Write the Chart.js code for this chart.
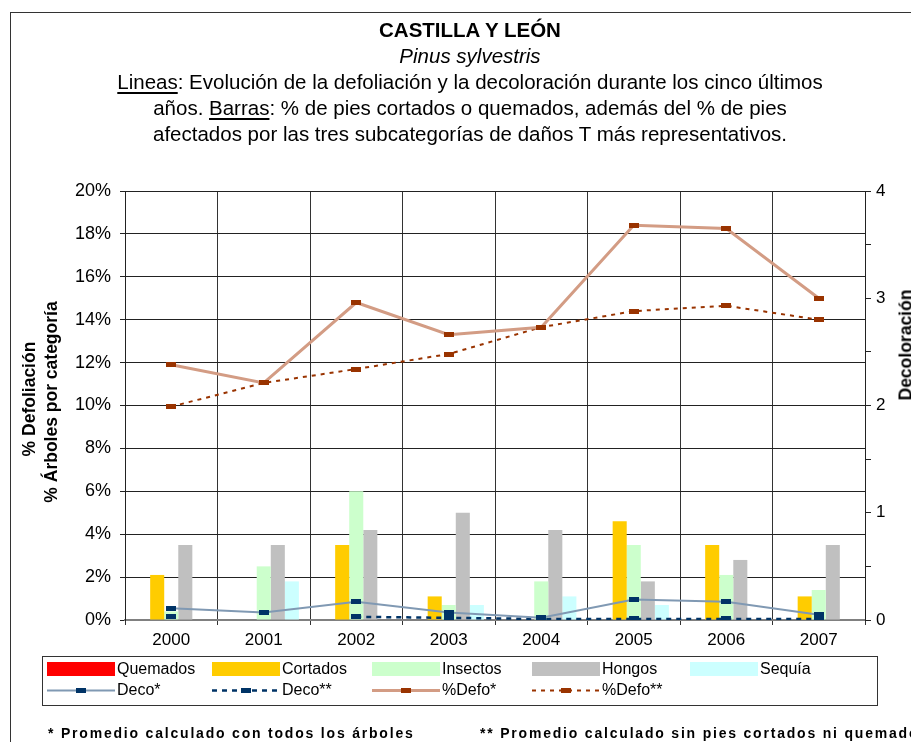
<!DOCTYPE html>
<html>
<head>
<meta charset="utf-8">
<script src="https://cdn.jsdelivr.net/npm/chart.js@4/dist/chart.umd.min.js"></script>
<style>
  html, body { margin: 0; padding: 0; background: #fff; overflow: hidden; }
  body { width: 911px; height: 742px; position: relative; font-family: "Liberation Sans", Arial, sans-serif; color: #000; }
  #frame { position: absolute; left: 10px; top: 12px; width: 1000px; height: 900px; border-left: 1.5px solid #333; border-top: 1.5px solid #333; }
  #wrap { position: absolute; left: 0; top: 0; width: 911px; height: 742px; }
  #head { position: absolute; left: 60px; top: 17px; width: 820px; text-align: center; font-size: 20.5px; line-height: 26px; }
  #head u { text-decoration-thickness: 2px; text-underline-offset: 3px; }
  .ytitle { position: absolute; font-weight: bold; font-size: 17.5px; white-space: nowrap; transform: translate(-50%, -50%) rotate(-90deg); }
  #legend { position: absolute; left: 42px; top: 656px; width: 836px; height: 50px; border: 1.5px solid #333; box-sizing: border-box; }
  .li { position: absolute; display: flex; align-items: center; font-size: 16px; white-space: nowrap; }
  .li canvas { margin-right: 2px; }
  .foot { position: absolute; top: 725px; font-size: 14px; font-weight: bold; letter-spacing: 1.8px; white-space: nowrap; }
</style>
</head>
<body>
<div id="frame"></div>
<div id="wrap"><canvas id="chart"></canvas></div>
<div id="head">
  <b>CASTILLA Y LEÓN</b><br>
  <i>Pinus sylvestris</i><br>
  <u>Lineas</u>: Evolución de la defoliación y la decoloración durante los cinco últimos<br>
  años. <u>Barras</u>: % de pies cortados o quemados, además del % de pies<br>
  afectados por las tres subcategorías de daños T más representativos.
</div>
<div class="ytitle" style="left:29px; top:399px;">% Defoliación</div>
<div class="ytitle" style="left:51px; top:402px;">% Árboles por categoría</div>
<div class="ytitle" style="left:906px; top:345px;">Decoloración</div>
<div id="legend"></div>
<div class="foot" style="left:48px;">* Promedio calculado con todos los árboles</div>
<div class="foot" style="left:480px;">** Promedio calculado sin pies cortados ni quemados</div>

<script>
const years = ["2000", "2001", "2002", "2003", "2004", "2005", "2006", "2007"];

// bars, % of trees (left axis)
const quemados = [0, 0, 0, 0, 0, 0, 0, 0];
const cortados = [2.1, 0, 3.5, 1.1, 0, 4.6, 3.5, 1.1];
const insectos = [0.4, 2.5, 6.0, 0.7, 1.8, 3.5, 2.1, 1.4];
const hongos   = [3.5, 3.5, 4.2, 5.0, 4.2, 1.8, 2.8, 3.5];
const sequia   = [0, 1.8, 0, 0.7, 1.1, 0.7, 0, 0];

// lines
const decoAll  = [0.11, 0.07, 0.17, 0.07, 0.02, 0.19, 0.17, 0.05];   // right axis
const decoSin  = [0.03, null, 0.03, 0.02, 0.01, 0.01, 0.01, 0.01];
const defoAll  = [11.9, 11.05, 14.8, 13.3, 13.65, 18.4, 18.25, 15.0]; // left axis
const defoSin  = [9.95, 11.05, 11.7, 12.4, 13.65, 14.4, 14.65, 14.0];

function marker(color) {
  const c = document.createElement("canvas");
  c.width = 10; c.height = 5;
  const g = c.getContext("2d");
  g.fillStyle = color;
  g.fillRect(0, 0, 10, 5);
  return c;
}
const navyMark = marker("#003366");
const brownMark = marker("#993300");

function bar(label, data, color) {
  return { type: "bar", label, data, backgroundColor: color, borderWidth: 0, yAxisID: "y", order: 2,
           categoryPercentage: 0.76, barPercentage: 1 };
}
function line(label, data, color, width, dash, mark, axis) {
  return { type: "line", label, data, borderColor: color, borderWidth: width, borderDash: dash,
           pointStyle: mark, pointRadius: 5, pointHoverRadius: 5, yAxisID: axis, order: 1,
           tension: 0, spanGaps: false, fill: false };
}

const datasets = [
  bar("Quemados", quemados, "#ff0000"),
  bar("Cortados", cortados, "#ffcc00"),
  bar("Insectos", insectos, "#ccffcc"),
  bar("Hongos", hongos, "#c0c0c0"),
  bar("Sequía", sequia, "#ccffff"),
  line("Deco*", decoAll, "#8099b3", 2, [], navyMark, "y1"),
  line("Deco**", decoSin, "#003366", 2.5, [5, 5], navyMark, "y1"),
  line("%Defo*", defoAll, "#d39c84", 3, [], brownMark, "y"),
  line("%Defo**", defoSin, "#993300", 2, [4, 5], brownMark, "y"),
];

const tickFont = { family: "Liberation Sans, Arial, sans-serif", size: 18 };

const chart = new Chart(document.getElementById("chart"), {
  data: { labels: years, datasets },
  options: {
    responsive: true, maintainAspectRatio: false, animation: false,
    layout: { padding: { top: 191, bottom: 82, left: 0, right: 0 } },
    plugins: { legend: { display: false }, title: { display: false }, tooltip: { enabled: false } },
    scales: {
      x: {
        offset: true,
        grid: { offset: true, color: "#333", lineWidth: 1, tickLength: 5 },
        border: { color: "#808080", width: 2 },
        ticks: { color: "#000", font: { ...tickFont, size: 17 }, padding: 5, maxRotation: 0 },
        afterFit: (s) => { s.height = 40; },
      },
      y: {
        position: "left", min: 0, max: 20,
        grid: { color: "#222", lineWidth: 1, tickLength: 5 },
        border: { color: "#222", width: 1 },
        ticks: { stepSize: 2, color: "#000", font: tickFont, padding: 9, callback: (v) => v + "%" },
        afterFit: (s) => { s.width = 125; },
      },
      y1: {
        position: "right", min: 0, max: 4,
        grid: { drawOnChartArea: false, color: "#222", tickLength: 6 },
        border: { color: "#222", width: 1 },
        ticks: { stepSize: 0.5, color: "#000", font: { ...tickFont, size: 17 }, padding: 5,
                 callback: (v) => Number.isInteger(v) ? v : "" },
        afterFit: (s) => { s.width = 46; },
      },
    },
  },
});

// legend drawn from the chart's datasets
function buildLegend() {
  const box = document.getElementById("legend");
  const cols = [4, 169, 329, 489, 647];
  chart.data.datasets.forEach((ds, i) => {
    const row = i < 5 ? 0 : 1;
    const col = i < 5 ? i : i - 5;
    const item = document.createElement("div");
    item.className = "li";
    item.style.left = cols[col] + "px";
    item.style.top = (row === 0 ? 3 : 24) + "px";
    const c = document.createElement("canvas");
    c.width = 68; c.height = 16;
    const g = c.getContext("2d");
    if (ds.type === "bar") {
      g.fillStyle = ds.backgroundColor;
      g.fillRect(0, 1, 68, 14);
    } else {
      g.strokeStyle = ds.borderColor;
      g.lineWidth = ds.borderWidth;
      g.setLineDash(ds.borderDash);
      g.beginPath(); g.moveTo(0, 8.5); g.lineTo(68, 8.5); g.stroke();
      g.drawImage(ds.pointStyle, 29, 6);
    }
    item.appendChild(c);
    const t = document.createElement("span");
    t.textContent = ds.label;
    item.appendChild(t);
    box.appendChild(item);
  });
}
buildLegend();
</script>
</body>
</html>
